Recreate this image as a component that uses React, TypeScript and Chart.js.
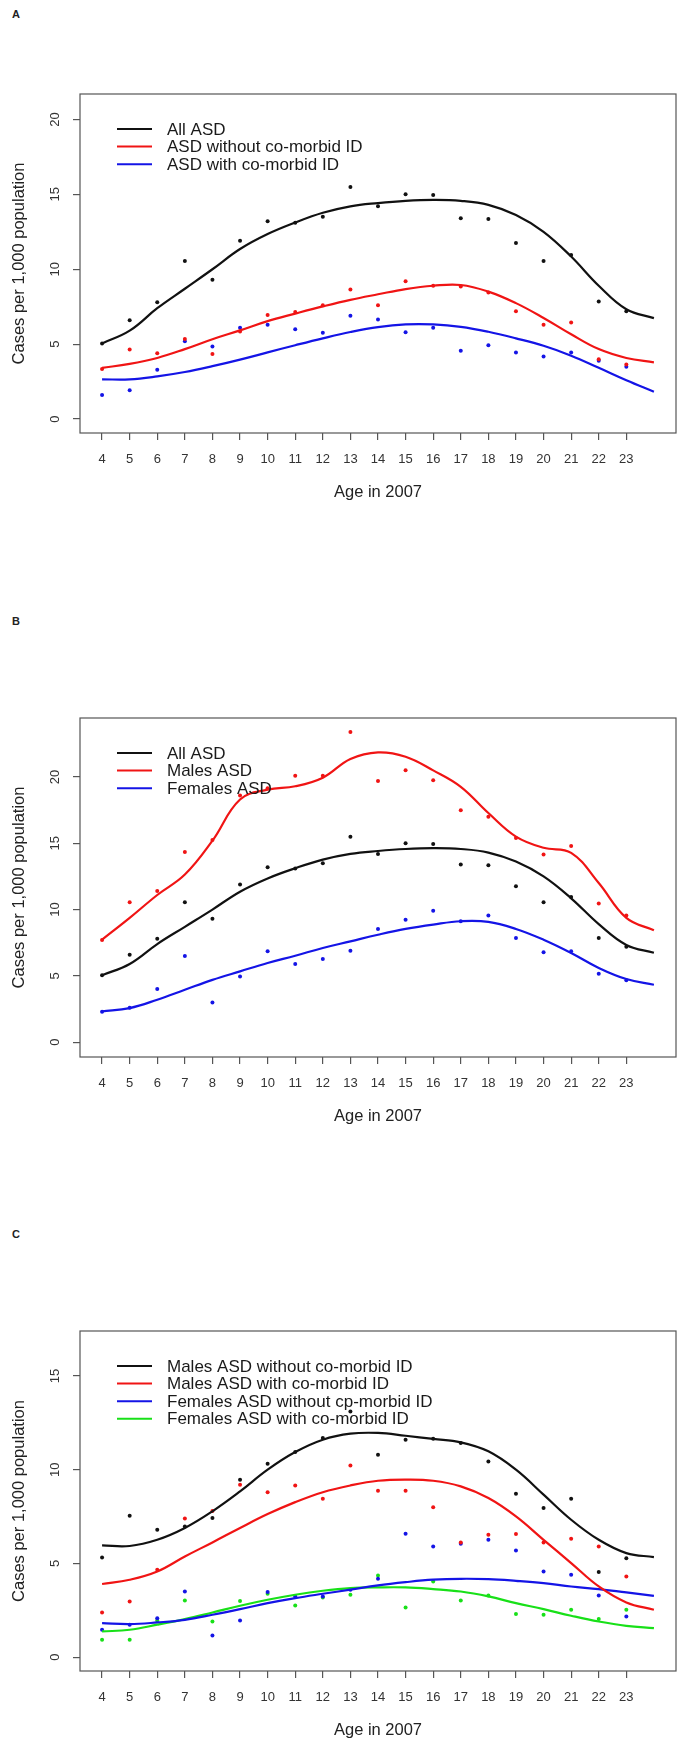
import React, { useEffect, useRef } from "react";
import { Chart, registerables } from "chart.js";

Chart.register(...registerables);

// ---------- data ----------
const ages = [4, 5, 6, 7, 8, 9, 10, 11, 12, 13, 14, 15, 16, 17, 18, 19, 20, 21, 22, 23];
const fitAges = [4, 5, 6, 7, 8, 9, 10, 11, 12, 13, 14, 15, 16, 17, 18, 19, 20, 21, 22, 23, 24];
const xTickValues = ages;

// Panel A
const allAsdPts = [5.05, 6.6, 7.8, 10.55, 9.3, 11.9, 13.2, 13.1, 13.5, 15.5, 14.2, 15.0, 14.95, 13.4, 13.35, 11.75, 10.55, 10.95, 7.85, 7.2];
const asdNoIdPts = [3.35, 4.65, 4.4, 5.35, 4.35, 5.85, 6.95, 7.15, 7.6, 8.65, 7.6, 9.2, 8.9, 8.85, 8.45, 7.2, 6.3, 6.45, 4.0, 3.65];
const asdIdPts = [1.6, 1.93, 3.3, 5.2, 4.85, 6.1, 6.3, 6.0, 5.77, 6.9, 6.65, 5.8, 6.1, 4.56, 4.93, 4.45, 4.17, 4.45, 3.9, 3.5];
const allAsdFit = [5.05, 5.9, 7.4, 8.7, 10.0, 11.35, 12.35, 13.12, 13.77, 14.2, 14.42, 14.57, 14.63, 14.57, 14.3, 13.62, 12.5, 10.85, 8.9, 7.33, 6.74];
const asdNoIdFit = [3.42, 3.68, 4.08, 4.67, 5.33, 5.92, 6.54, 7.04, 7.52, 7.96, 8.33, 8.68, 8.9, 8.95, 8.51, 7.74, 6.75, 5.66, 4.67, 4.08, 3.79];
const asdIdFit = [2.65, 2.65, 2.85, 3.14, 3.53, 3.97, 4.45, 4.93, 5.39, 5.81, 6.14, 6.32, 6.32, 6.16, 5.83, 5.39, 4.89, 4.23, 3.42, 2.59, 1.82];

// Panel B
const malesPts = [7.7, 10.55, 11.4, 14.35, 15.25, 18.6, 19.15, 20.1, 20.1, 23.4, 19.7, 20.5, 19.75, 17.5, 17.0, 15.4, 14.15, 14.8, 10.45, 9.55];
const femalesPts = [2.3, 2.6, 4.0, 6.5, 3.0, 4.96, 6.85, 5.9, 6.27, 6.9, 8.54, 9.24, 9.92, 9.12, 9.55, 7.86, 6.78, 6.85, 5.16, 4.66];
const malesFit = [7.73, 9.37, 11.1, 12.64, 15.2, 18.3, 19.05, 19.3, 19.95, 21.36, 21.86, 21.53, 20.5, 19.26, 17.28, 15.5, 14.66, 14.28, 12.0, 9.37, 8.44];
const femalesFit = [2.32, 2.57, 3.2, 3.95, 4.7, 5.34, 5.97, 6.52, 7.1, 7.6, 8.1, 8.54, 8.87, 9.12, 9.07, 8.54, 7.73, 6.73, 5.6, 4.76, 4.33];

// Panel C
const maleNoIdPts = [5.32, 7.54, 6.8, 6.97, 7.42, 9.47, 10.32, 10.94, 11.69, 13.1, 10.8, 11.6, 11.65, 11.42, 10.44, 8.72, 7.95, 8.45, 4.54, 5.28];
const maleIdPts = [2.38, 2.97, 4.66, 7.4, 7.8, 9.2, 8.8, 9.16, 8.45, 10.23, 8.88, 8.88, 8.0, 6.12, 6.53, 6.57, 6.12, 6.32, 5.9, 4.3];
const femaleNoIdPts = [1.46, 1.73, 2.08, 3.5, 1.16, 1.96, 3.47, 3.24, 3.24, 3.6, 4.18, 6.58, 5.9, 6.05, 6.26, 5.69, 4.57, 4.4, 3.29, 2.17];
const femaleIdPts = [0.93, 0.93, 1.95, 3.02, 1.9, 3.0, 3.38, 2.76, 3.18, 3.33, 4.36, 2.65, 4.04, 3.02, 3.29, 2.3, 2.26, 2.53, 2.03, 2.53];
const maleNoIdFit = [5.96, 5.93, 6.26, 6.89, 7.78, 8.84, 10.0, 10.94, 11.6, 11.92, 11.96, 11.81, 11.64, 11.46, 10.98, 10.0, 8.67, 7.33, 6.26, 5.55, 5.34];
const maleIdFit = [3.9, 4.13, 4.57, 5.37, 6.12, 6.89, 7.63, 8.27, 8.8, 9.16, 9.41, 9.47, 9.41, 9.11, 8.49, 7.51, 6.26, 5.02, 3.77, 2.92, 2.53];
const femaleNoIdFit = [1.81, 1.76, 1.85, 1.99, 2.26, 2.56, 2.88, 3.15, 3.38, 3.6, 3.83, 4.0, 4.13, 4.18, 4.16, 4.07, 3.95, 3.77, 3.63, 3.45, 3.27];
const femaleIdFit = [1.37, 1.46, 1.73, 2.03, 2.38, 2.74, 3.06, 3.33, 3.54, 3.68, 3.72, 3.72, 3.63, 3.5, 3.24, 2.88, 2.56, 2.21, 1.9, 1.67, 1.55];

const BLACK = "#111111";
const RED = "#F01414";
const BLUE = "#1414E6";
const GREEN = "#18E018";

type Series = { label: string; color: string; pts: number[]; fit: number[] };
type Panel = {
  letter: string;
  letterTop: number;
  top: number;
  chartTop: number;
  chartBottom: number;
  yMin: number;
  yMax: number;
  yTickMax: number;
  series: Series[];
};

const panels: Panel[] = [
  {
    letter: "A", letterTop: 8, top: 0, chartTop: 94, chartBottom: 433, yMin: -0.93, yMax: 21.7, yTickMax: 20,
    series: [
      { label: "All ASD", color: BLACK, pts: allAsdPts, fit: allAsdFit },
      { label: "ASD without co-morbid ID", color: RED, pts: asdNoIdPts, fit: asdNoIdFit },
      { label: "ASD with co-morbid ID", color: BLUE, pts: asdIdPts, fit: asdIdFit },
    ],
  },
  {
    letter: "B", letterTop: 615, top: 510, chartTop: 208, chartBottom: 547, yMin: -1.12, yMax: 24.45, yTickMax: 20,
    series: [
      { label: "All ASD", color: BLACK, pts: allAsdPts, fit: allAsdFit },
      { label: "Males ASD", color: RED, pts: malesPts, fit: malesFit },
      { label: "Females ASD", color: BLUE, pts: femalesPts, fit: femalesFit },
    ],
  },
  {
    letter: "C", letterTop: 1228, top: 1135, chartTop: 196, chartBottom: 536, yMin: -0.74, yMax: 17.4, yTickMax: 15,
    series: [
      { label: "Males ASD without co-morbid ID", color: BLACK, pts: maleNoIdPts, fit: maleNoIdFit },
      { label: "Males ASD with co-morbid ID", color: RED, pts: maleIdPts, fit: maleIdFit },
      { label: "Females ASD without cp-morbid ID", color: BLUE, pts: femaleNoIdPts, fit: femaleNoIdFit },
      { label: "Females ASD with co-morbid ID", color: GREEN, pts: femaleIdPts, fit: femaleIdFit },
    ],
  },
];

const FONT = "'Liberation Sans', Arial, sans-serif";
const W = 680;
const X_AXIS_H = 72;

const rPlotPlugin = {
  id: "rPlot",
  afterDraw(chart: any) {
    const ctx = chart.ctx as CanvasRenderingContext2D;
    const ca = chart.chartArea;
    const yScale = chart.scales.y;
    const legendItems = (chart.options.plugins as any).rPlot.items as { label: string; color: string }[];
    ctx.save();
    // box
    ctx.strokeStyle = "#555555";
    ctx.lineWidth = 1.2;
    ctx.strokeRect(ca.left, ca.top, ca.right - ca.left, ca.bottom - ca.top);
    // rotated y tick labels
    ctx.fillStyle = "#333333";
    ctx.font = `13px ${FONT}`;
    ctx.textAlign = "center";
    ctx.textBaseline = "middle";
    for (const t of yScale.ticks) {
      const py = yScale.getPixelForValue(t.value);
      ctx.save();
      ctx.translate(ca.left - 25, py);
      ctx.rotate(-Math.PI / 2);
      ctx.fillText(String(t.value), 0, 0);
      ctx.restore();
    }
    // legend
    ctx.font = `17px ${FONT}`;
    ctx.textAlign = "left";
    ctx.textBaseline = "middle";
    legendItems.forEach((it, i) => {
      const ly = ca.top + 35 + i * 17.6;
      ctx.strokeStyle = it.color;
      ctx.lineWidth = 2;
      ctx.beginPath();
      ctx.moveTo(117, ly);
      ctx.lineTo(152, ly);
      ctx.stroke();
      ctx.fillStyle = "#1a1a1a";
      ctx.fillText(it.label, 167, ly + 1);
    });
    ctx.restore();
  },
};

function PanelChart({ panel }: { panel: Panel }) {
  const ref = useRef<HTMLCanvasElement | null>(null);
  const height = panel.chartBottom + X_AXIS_H;

  useEffect(() => {
    if (!ref.current) return;
    const datasets: any[] = [];
    panel.series.forEach((s) => {
      datasets.push({
        type: "line",
        label: s.label,
        data: fitAges.map((a, i) => ({ x: a, y: s.fit[i] })),
        borderColor: s.color,
        backgroundColor: s.color,
        borderWidth: 2.2,
        pointRadius: 0,
        tension: 0.4,
        fill: false,
      });
    });
    panel.series.forEach((s) => {
      datasets.push({
        type: "scatter",
        label: s.label + " points",
        data: ages.map((a, i) => ({ x: a, y: s.pts[i] })),
        borderColor: s.color,
        backgroundColor: s.color,
        pointRadius: 2,
        pointBorderWidth: 0,
        showLine: false,
      });
    });

    const chart = new Chart(ref.current, {
      type: "line",
      data: { datasets },
      plugins: [rPlotPlugin],
      options: {
        animation: false,
        responsive: false,
        devicePixelRatio: 1,
        layout: { padding: { top: panel.chartTop, right: W - 677, left: 0, bottom: 0 } },
        plugins: {
          legend: { display: false },
          tooltip: { enabled: false },
          rPlot: { items: panel.series.map((s) => ({ label: s.label, color: s.color })) },
        } as any,
        scales: {
          x: {
            type: "linear",
            min: 3.2,
            max: 24.8,
            afterBuildTicks: (scale: any) => {
              scale.ticks = xTickValues.map((v) => ({ value: v }));
            },
            afterFit: (scale: any) => {
              scale.height = X_AXIS_H;
            },
            ticks: {
              stepSize: 1,
              includeBounds: false,
              autoSkip: false,
              maxRotation: 0,
              minRotation: 0,
              color: "#333333",
              font: { family: FONT, size: 13 },
              padding: 12,
            },
            grid: {
              display: true,
              drawOnChartArea: false,
              drawTicks: true,
              tickLength: 7,
              color: "#555555",
              lineWidth: 1.2,
            },
            border: { display: false },
            title: {
              display: true,
              text: "Age in 2007",
              color: "#222222",
              font: { family: FONT, size: 16.5 },
              padding: { top: 0, bottom: 3 },
            },
          },
          y: {
            type: "linear",
            min: panel.yMin,
            max: panel.yMax,
            afterBuildTicks: (scale: any) => {
              const t: { value: number }[] = [];
              for (let v = 0; v <= panel.yTickMax; v += 5) t.push({ value: v });
              scale.ticks = t;
            },
            afterFit: (scale: any) => {
              scale.width = 80;
            },
            ticks: { display: false, stepSize: 5, includeBounds: false },
            grid: {
              display: true,
              drawOnChartArea: false,
              drawTicks: true,
              tickLength: 7,
              color: "#555555",
              lineWidth: 1.2,
            },
            border: { display: false },
            title: {
              display: true,
              text: "Cases per 1,000 population",
              color: "#222222",
              font: { family: FONT, size: 16.5 },
              padding: { top: 10, bottom: 0 },
            },
          },
        },
      } as any,
    });
    return () => chart.destroy();
  }, [panel]);

  return (
    <>
      <div
        style={{
          position: "absolute",
          left: 12,
          top: panel.letterTop,
          font: `bold 11px ${FONT}`,
          color: "#222",
        }}
      >
        {panel.letter}
      </div>
      <canvas
        ref={ref}
        width={W}
        height={height}
        style={{ position: "absolute", left: 0, top: panel.top, width: W, height }}
      />
    </>
  );
}

export default function App() {
  return (
    <div
      style={{
        position: "absolute",
        left: 0,
        top: 0,
        width: W,
        height: 1744,
        background: "#ffffff",
        overflow: "hidden",
      }}
    >
      {panels.map((p) => (
        <PanelChart key={p.letter} panel={p} />
      ))}
    </div>
  );
}
